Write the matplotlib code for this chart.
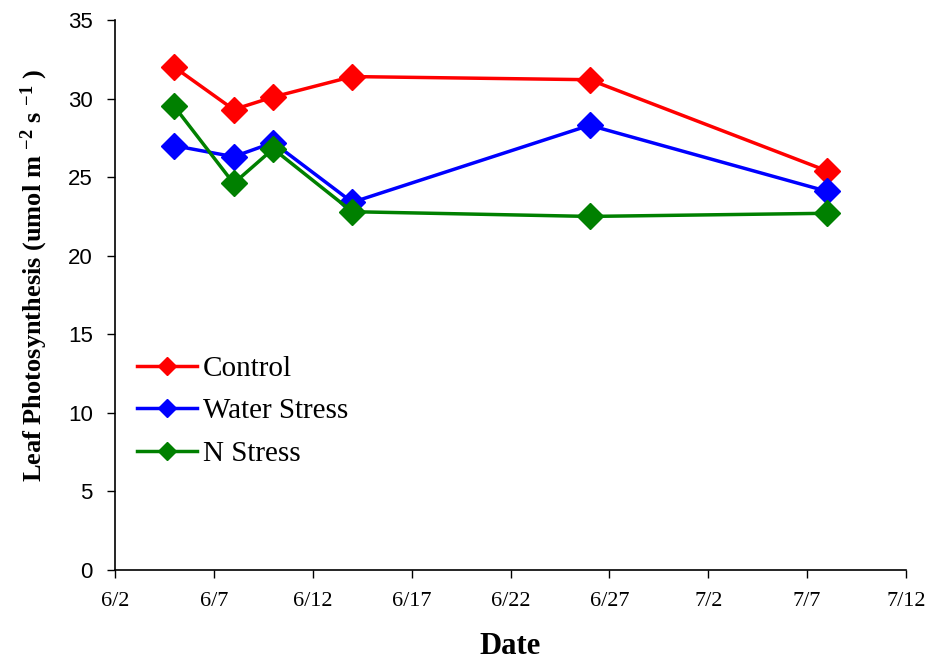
import matplotlib
matplotlib.use("Agg")
import matplotlib.pyplot as plt
import pandas as pd

# sampling dates (month/day, same season)
dates = ["6/5", "6/8", "6/10", "6/14", "6/26", "7/8"]
control = [32.0, 29.3, 30.1, 31.4, 31.2, 25.4]
water_stress = [27.0, 26.3, 27.2, 23.4, 28.3, 24.1]
n_stress = [29.5, 24.6, 26.8, 22.8, 22.5, 22.7]

tick_dates = ["6/2", "6/7", "6/12", "6/17", "6/22", "6/27", "7/2", "7/7", "7/12"]


def to_dt(s):
    return pd.to_datetime("2000/" + s, format="%Y/%m/%d")


x = [to_dt(d) for d in dates]
xticks = [to_dt(d) for d in tick_dates]

plt.rcParams['mathtext.fontset'] = 'custom'
plt.rcParams['mathtext.rm'] = 'Liberation Serif:bold'
plt.rcParams['mathtext.default'] = 'regular'

fig = plt.figure(figsize=(9.31, 6.63), dpi=100)
ax = fig.add_axes([115 / 931, 1 - 570 / 663, (906 - 115) / 931, (570 - 20) / 663])

series = [
    ("Control", control, "#ff0000"),
    ("Water Stress", water_stress, "#0000ff"),
    ("N Stress", n_stress, "#008000"),
]
for label, vals, col in series:
    ax.plot(x, vals, color=col, lw=2.5, marker='D', ms=13, label=label, clip_on=False)

ax.set_xlim(xticks[0], xticks[-1])
ax.set_xticks(xticks)
ax.set_xticklabels(tick_dates, fontfamily='Liberation Serif', fontsize=16)
ax.set_ylim(0, 35)
ax.set_yticks(range(0, 36, 5))
for t in ax.get_yticklabels():
    t.set_fontfamily('Liberation Sans')
    t.set_fontsize(16)

ax.tick_params(axis='both', direction='out', length=6, width=1, pad=10, color='black')
for s in ['top', 'right']:
    ax.spines[s].set_visible(False)
for s in ['left', 'bottom']:
    ax.spines[s].set_linewidth(1.2)

ax.set_xlabel("Date", fontfamily='Liberation Serif', fontweight='bold', fontsize=22, labelpad=15)
# excel-style spacing around the exponents
ax.set_ylabel(r"Leaf Photosynthesis (umol m $^{-2}$ s $^{-1}$ )",
              fontfamily='Liberation Serif', fontweight='bold', fontsize=19)
ax.yaxis.set_label_coords(-0.082, 0.535)

ax.legend(loc='center left', bbox_to_anchor=(0.028, 0.289), frameon=False,
          borderpad=0, borderaxespad=0,
          prop={'family': 'Liberation Serif', 'size': 21}, markerscale=0.7,
          handlelength=2.05, handletextpad=0.2, labelspacing=0.55)

plt.savefig("out.png", dpi=100)
plt.close()
